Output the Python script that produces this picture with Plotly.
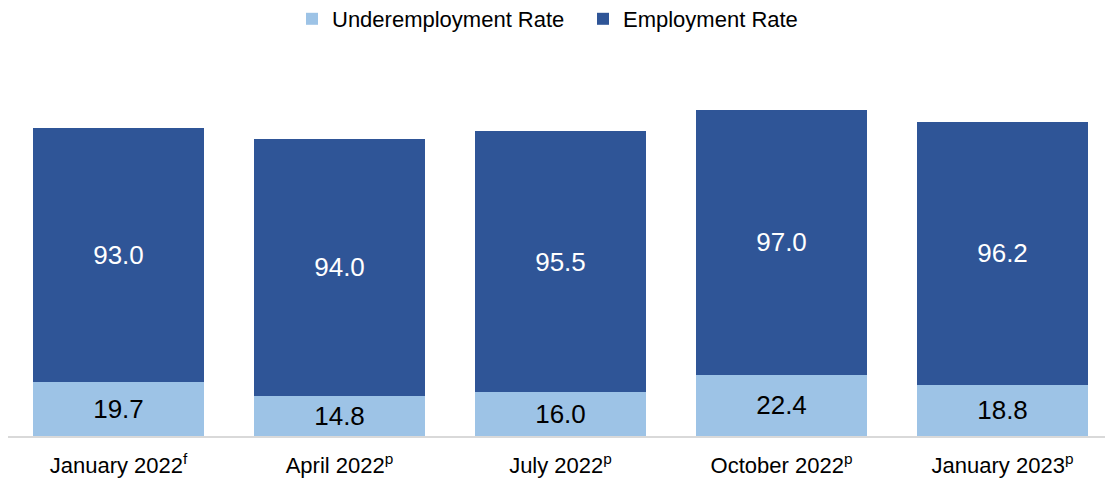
import plotly.graph_objects as go

categories = ["January 2022<sup>f</sup>", "April 2022<sup>p</sup>", "July 2022<sup>p</sup>",
              "October 2022<sup>p</sup>", "January 2023<sup>p</sup>"]
underemployment = [19.7, 14.8, 16.0, 22.4, 18.8]
employment = [93.0, 94.0, 95.5, 97.0, 96.2]

FONT = "Liberation Sans, Arial, sans-serif"
LIGHT = "#9DC3E6"
DARK = "#2F5597"

fig = go.Figure()
fig.add_trace(go.Bar(
    x=categories, y=underemployment, name="Underemployment Rate",
    marker=dict(color=LIGHT, line=dict(width=0)),
    text=[f"{v:.1f}" for v in underemployment], textposition="inside",
    insidetextanchor="middle", textangle=0,
    textfont=dict(family=FONT, size=26, color="black"),
    width=0.77,
))
fig.add_trace(go.Bar(
    x=categories, y=employment, name="Employment Rate",
    marker=dict(color=DARK, line=dict(width=0)),
    text=[f"{v:.1f}" for v in employment], textposition="inside",
    insidetextanchor="middle", textangle=0,
    textfont=dict(family=FONT, size=26, color="white"),
    width=0.77,
))

fig.update_layout(
    barmode="stack",
    width=1105, height=481,
    margin=dict(l=8, r=0, t=60, b=45),
    paper_bgcolor="white", plot_bgcolor="white",
    font=dict(family=FONT, size=22, color="black"),
    showlegend=True,
    legend=dict(orientation="h", x=(292 - 8) / 1097, xanchor="left", yref="container",
                y=1 - 19 / 481, yanchor="middle", font=dict(size=22, color="black"),
                traceorder="normal", entrywidth=246, entrywidthmode="pixels"),
    uniformtext=dict(mode=False),
    xaxis=dict(range=[-0.5, -0.5 + 1097 / 221], showline=True, linecolor="#D9D9D9",
               linewidth=2, ticks="", showgrid=False, tickfont=dict(size=22),
               ticklabelstandoff=9),
    yaxis=dict(range=[0, 376 / 2.732], visible=False, showgrid=False),
)

fig.write_html("out.html")
